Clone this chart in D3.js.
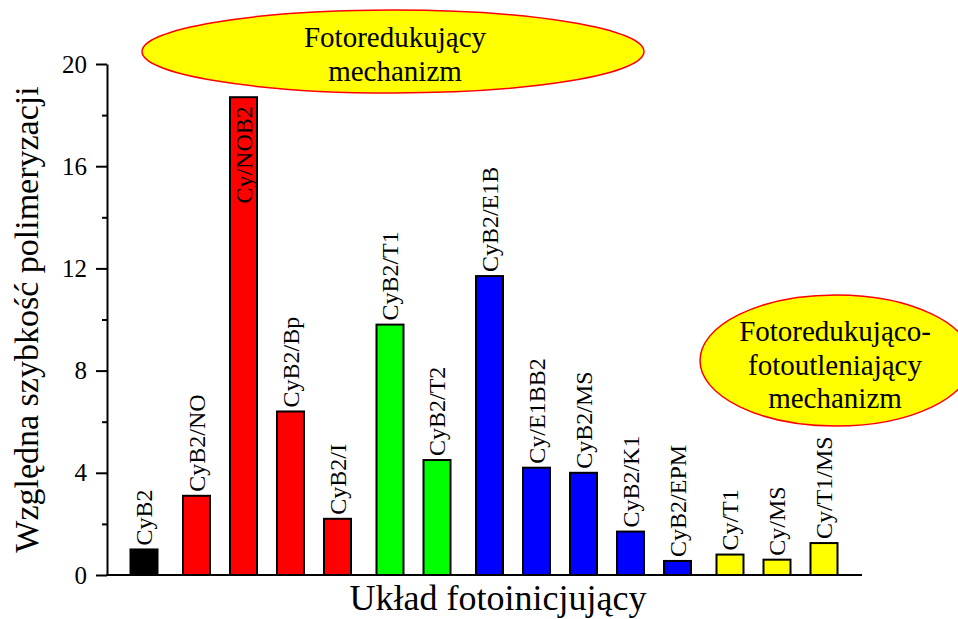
<!DOCTYPE html>
<html>
<head>
<meta charset="utf-8">
<script src="https://cdn.jsdelivr.net/npm/d3@7"></script>
<style>
  body { margin: 0; background: #fff; }
  text { font-family: "Liberation Serif", "Times New Roman", serif; fill: #000; }
</style>
</head>
<body>
<script>
// chart values
var labels = ["CyB2", "CyB2/NO", "Cy/NOB2", "CyB2/Bp", "CyB2/I", "CyB2/T1", "CyB2/T2",
              "CyB2/E1B", "Cy/E1BB2", "CyB2/MS", "CyB2/K1", "CyB2/EPM", "Cy/T1", "Cy/MS", "Cy/T1/MS"];
var values = [1.0, 3.1, 18.7, 6.4, 2.2, 9.8, 4.5, 11.7, 4.2, 4.0, 1.7, 0.55, 0.8, 0.6, 1.25];
var groups = [0, 1, 1, 1, 1, 2, 2, 3, 3, 3, 3, 3, 4, 4, 4];
var groupColors = ["#000000", "#ff0000", "#00ff00", "#0000ff", "#ffff00"];
var majorTicks = [0, 4, 8, 12, 16, 20];
var minorTicks = [2, 6, 10, 14, 18];
var notes = [
    { lines: ["Fotoredukujący", "mechanizm"] },
    { lines: ["Fotoredukująco-", "fotoutleniający", "mechanizm"] }
];

var width = 958,
    height = 619;
var plotLeft = 107, plotRight = 862, plotTop = 64, plotBottom = 575;
var groupGap = 0.117;   // extra gap between colour groups, in bar steps

var svg = d3.select("body")
    .append("svg")
    .attr("width", width)
    .attr("height", height);

var slots = values.map(function(d, i) { return i + groups[i] * groupGap; });

var x = d3.scaleLinear()
    .domain([0, d3.max(slots)])
    .range([144, 824]);

var y = d3.scaleLinear()
    .domain([0, 20])
    .range([plotBottom, plotTop]);

var barW = 27;

// axes
var yAxis = svg.append("g")
    .attr("transform", "translate(" + plotLeft + ",0)")
    .call(d3.axisLeft(y).tickValues(majorTicks).tickSize(11).tickSizeOuter(0).tickPadding(9));
yAxis.selectAll("text").style("font-size", "25px").style("font-family", "Liberation Serif");
yAxis.selectAll("line").attr("stroke-width", 2);
yAxis.select(".domain").attr("stroke-width", 2);

var yMinor = svg.append("g")
    .attr("transform", "translate(" + plotLeft + ",0)")
    .call(d3.axisLeft(y).tickValues(minorTicks).tickSize(5).tickFormat(""));
yMinor.select(".domain").remove();
yMinor.selectAll("line").attr("stroke-width", 2);

svg.append("line")
    .attr("x1", plotLeft - 1)
    .attr("x2", plotRight)
    .attr("y1", y(0))
    .attr("y2", y(0))
    .attr("stroke", "#000")
    .attr("stroke-width", 2);

// bars
svg.selectAll("rect.bar")
    .data(values)
    .enter()
    .append("rect")
    .attr("class", "bar")
    .attr("x", function(d, i) { return x(slots[i]) - barW / 2; })
    .attr("y", function(d) { return y(d); })
    .attr("width", barW)
    .attr("height", function(d) { return y(0) - y(d); })
    .attr("fill", function(d, i) { return groupColors[groups[i]]; })
    .attr("stroke", "#000")
    .attr("stroke-width", 2);

// bar labels, inside the bar when it runs up into the note
svg.selectAll("text.lab")
    .data(values)
    .enter()
    .append("text")
    .attr("class", "lab")
    .attr("transform", function(d, i) {
        var inside = d > 16;
        return "translate(" + x(slots[i]) + "," + (inside ? y(d) + 9 : y(d) - 4) + ") rotate(-90)";
    })
    .attr("text-anchor", function(d) { return d > 16 ? "end" : "start"; })
    .attr("dy", "0.35em")
    .style("font-size", "24px")
    .text(function(d, i) { return labels[i]; });

// axis titles
svg.append("text")
    .attr("transform", "translate(38," + ((plotTop + plotBottom) / 2) + ") rotate(-90)")
    .attr("text-anchor", "middle")
    .style("font-size", "34px")
    .text("Względna szybkość polimeryzacji");

svg.append("text")
    .attr("x", 498)
    .attr("y", 610)
    .attr("text-anchor", "middle")
    .style("font-size", "36px")
    .text("Układ fotoinicjujący");

// notes
var notePos = [
    { cx: 393, cy: 51.5, rx: 251, ry: 41.5, tx: 395, ty: 47 },
    { cx: 836, cy: 360.5, rx: 136, ry: 65.5, tx: 835, ty: 341 }
];

notes.forEach(function(n, k) {
    var p = notePos[k];
    var g = svg.append("g");
    g.append("ellipse")
        .attr("cx", p.cx)
        .attr("cy", p.cy)
        .attr("rx", p.rx)
        .attr("ry", p.ry)
        .attr("fill", "#ffff00")
        .attr("stroke", "#ff0000")
        .attr("stroke-width", 1.5);
    g.selectAll("text")
        .data(n.lines)
        .enter()
        .append("text")
        .attr("x", p.tx)
        .attr("y", function(d, i) { return p.ty + i * 33.5; })
        .attr("text-anchor", "middle")
        .style("font-size", "29px")
        .text(function(d) { return d; });
});
</script>
</body>
</html>
